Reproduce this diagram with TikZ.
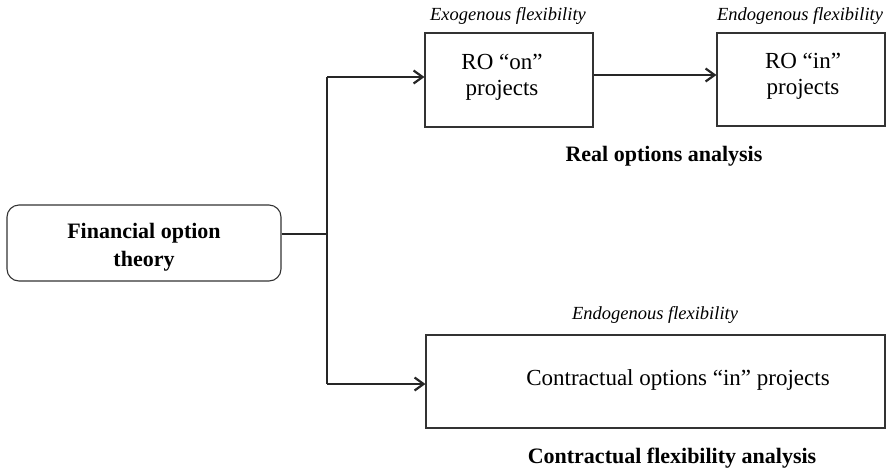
\documentclass[tikz,border=0pt]{standalone}
\usepackage{fontspec}
\setmainfont{Liberation Serif}
\usetikzlibrary{arrows.meta}
\begin{document}
\begin{tikzpicture}[x=1pt,y=-1pt,
  box/.style={draw=black!80, line width=1.1pt, inner sep=0pt},
  conn/.style={draw=black!85, line width=1.1pt},
  tip/.style={-{Straight Barb[length=9pt,width=13pt,line width=2.2pt]}},
  txt/.style={font=\fontsize{23}{26}\selectfont, align=center, inner sep=0pt},
  boldtxt/.style={font=\fontsize{22}{27.5}\selectfont\bfseries, align=center, inner sep=0pt},
  itxt/.style={font=\fontsize{18.5}{22}\selectfont\itshape, inner sep=0pt},
]
\useasboundingbox (0,0) rectangle (889,475);

% source box
\node[box, rounded corners=12pt, minimum width=274pt, minimum height=76pt] (fin) at (144,243) {};
\node[boldtxt] (fintxt) at (144,247) {Financial option\\theory};

% real options branch
\node[itxt] (exo) at (508,16) {Exogenous flexibility};
\node[itxt] (endo1) at (800,16) {Endogenous flexibility};
\node[box, minimum width=168pt, minimum height=94pt] (roon) at (509,80) {};
\node[txt] (roontxt) at (502,77) {RO “on”\\projects};
\node[box, minimum width=168pt, minimum height=93pt] (roin) at (801,79.5) {};
\node[txt] (rointxt) at (803,76) {RO “in”\\projects};
\node[boldtxt] (roa) at (664,156) {Real options analysis};

% contractual branch
\node[itxt] (endo2) at (655,315) {Endogenous flexibility};
\node[box, minimum width=459pt, minimum height=93pt] (cont) at (655.5,381.5) {};
\node[txt] (conttxt) at (678,380) {Contractual options “in” projects};
\node[boldtxt] (cfa) at (672,458) {Contractual flexibility analysis};

% connectors
\coordinate (j) at (327,234);
\coordinate (jt) at (327,77);
\coordinate (jb) at (327,384);
\coordinate (m) at (655,75);
\draw[conn] (fin.east |- j) -- (j);
\draw[conn] (jt) -- (jb);
\draw[conn,tip] (jt) -- (roon.west |- jt);
\draw[conn,tip] (jb) -- (cont.west |- jb);
\draw[conn,tip] (roon.east |- m) -- (roin.west |- m);
\end{tikzpicture}
\end{document}
